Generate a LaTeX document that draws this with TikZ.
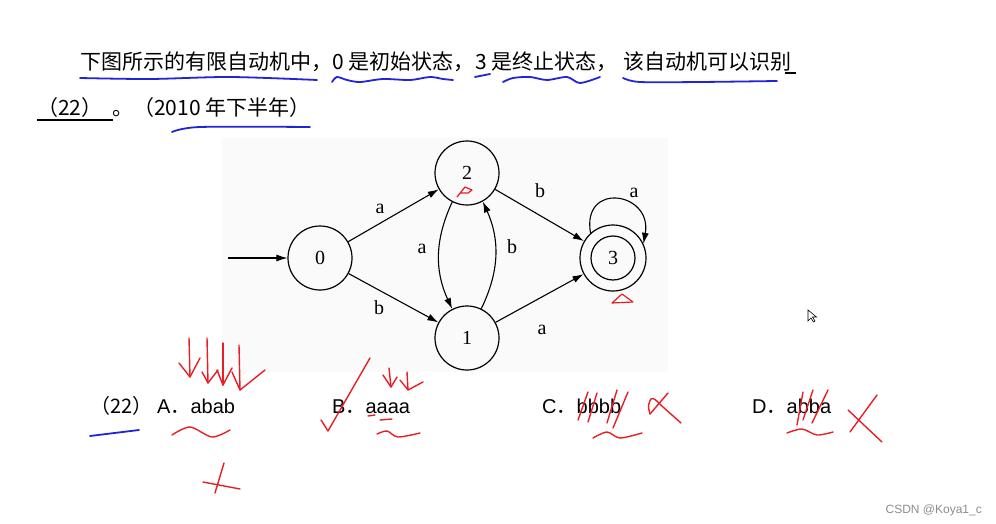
\documentclass[tikz,border=0pt]{standalone}
\usepackage{fontspec}
\setmainfont{Liberation Serif}
\newfontfamily\cjk{Noto Sans CJK SC}
\newfontfamily\arial{Liberation Sans}
\usetikzlibrary{arrows.meta}
\definecolor{penred}{RGB}{232,30,36}
\definecolor{penblue}{RGB}{35,35,215}

\begin{document}
\begin{tikzpicture}[x=1pt,y=1pt,yscale=-1,
  state/.style={circle,draw,line width=1.2pt,minimum size=64pt,inner sep=0pt,font=\fontsize{20}{22}\selectfont},
  edge/.style={line width=1.1pt,-{Latex[length=11pt,width=7pt]}},
  lbl/.style={font=\fontsize{20}{22}\selectfont,inner sep=0pt},
  cn/.style={font=\cjk\fontsize{21}{24}\selectfont,inner sep=0pt,anchor=base west},
  opt/.style={font=\arial\fontsize{20}{24}\selectfont,inner sep=0pt,anchor=base west},
  redpen/.style={penred,line width=1.4pt,line cap=round,line join=round},
  bluepen/.style={penblue,line width=1.8pt,line cap=round,line join=round}]
\useasboundingbox (0,0) rectangle (996,524);

%Shape: Rectangle (scanned figure)
\fill[black!2] (222,138) rectangle (668,372);

% Text Node
\node[cn] (q1) at (80,70) {下图所示的有限自动机中，};
\node[cn] (q2) at (332,70) {0 是初始状态，};
\node[cn] (q3) at (475,70) {3 是终止状态，};
\node[cn] (q4) at (623,70) {该自动机可以识别};
\node[cn] (q5) at (37,116) {（22）};
\node[cn] (q6) at (112,116) {。（2010 年下半年）};
%Straight Lines
\draw[line width=1.2pt] (785,73) -- (796,73);
\draw[line width=1.2pt] (37,120) -- (113,120);

%Shape: Circle
\node[state] (s0) at (320,258) {0};
\node[state] (s2) at (467,173) {2};
\node[state] (s1) at (467,338) {1};
\node[state,minimum size=66pt] (s3) at (613,258) {3};
\draw[line width=1.2pt] (s3.center) circle (22);
\coordinate (start) at (228,258);

%Straight Lines
\draw[edge] (start) -- (s0);
\draw[edge] (s0) -- (s2);
\draw[edge] (s0) -- (s1);
\draw[edge] (s2) -- (s3);
\draw[edge] (s1) -- (s3);
%Curve Lines
\draw[edge] (s2.-117) to[bend left=25] (s1.117);
\draw[edge] (s1.64) to[bend left=25] (s2.-61);
\draw[edge] (s3.132) to[out=-100,in=-80,looseness=2.5] (s3.25);

% Text Node
\node[lbl] (l02) at (380,209) {a};
\node[lbl] (l01) at (379,308) {b};
\node[lbl] (l21) at (422,249) {a};
\node[lbl] (l12) at (512,247) {b};
\node[lbl] (l23) at (540,191) {b};
\node[lbl] (l13) at (542,330) {a};
\node[lbl] (l33) at (634,193) {a};

% Text Node (answers)
\node[cn,font=\cjk\fontsize{20}{24}\selectfont] (n22) at (90,413) {（22）};
\node[opt] (oa) at (157,413) {A{\cjk ．}abab};
\node[opt] (ob) at (332,413) {B{\cjk ．}aaaa};
\node[opt] (oc) at (542,413) {C{\cjk ．}bbbb};
\node[opt] (od) at (752,413) {D{\cjk ．}abba};
\node[font=\arial\fontsize{12}{14}\selectfont,text=black!45,inner sep=0pt,anchor=base east] (wm) at (982,513) {CSDN @Koya1\_c};

%Pointer
\draw[line width=0.6pt,fill=white] (808,310) -- (808,321) -- (811,318) -- (813.5,322) -- (815,321) -- (812.5,317) -- (816.5,317) -- cycle;

%Blue marks
\draw[bluepen] plot[smooth] coordinates {(80,78) (150,79) (230,77) (317,80)};
\draw[bluepen] plot[smooth] coordinates {(332,82) (337,77) (347,80) (360,82) (383,79) (410,80) (430,77) (443,79) (453,80)};
\draw[bluepen] (475,77) -- (490,74);
\draw[bluepen] plot[smooth] coordinates {(503,82) (513,78) (530,77) (547,80) (567,77) (580,83) (600,77)};
\draw[bluepen] plot[smooth] coordinates {(623,78) (640,82) (700,82) (777,81)};
\draw[bluepen] plot[smooth] coordinates {(172,132) (200,127) (310,127)};
\draw[bluepen] (90,436) -- (139,430);

%Red marks: diagram
\draw[redpen,line width=1.2pt] (457,197) -- (465,187) -- (472,190) -- (468,193) -- (460,193);
\draw[redpen,line width=1.2pt] (612,303) -- (622,294) -- (633,302) -- cycle;

%Red marks: option A
\draw[redpen] (189,338) -- (190,377);
\draw[redpen] (179,363) -- (190,377) -- (200,358);
\draw[redpen] (207,338) -- (208,383);
\draw[redpen] (202,372) -- (208,383) -- (218,370);
\draw[redpen] (223,343) -- (223,385);
\draw[redpen] (217,370) -- (223,385) -- (232,368);
\draw[redpen] (239,345) -- (240,390);
\draw[redpen] (232,372) -- (240,390) -- (265,370);
\draw[redpen] plot[smooth] coordinates {(172,435) (190,427) (212,437) (230,430)};
\draw[redpen] (224,463) -- (215,493);
\draw[redpen] (203,482) -- (240,489);

%Red marks: option B
\draw[redpen] (321,420) -- (328,431) -- (370,358);
\draw[redpen] (389,368) -- (391,387);
\draw[redpen] (383,375) -- (391,387) -- (397,377);
\draw[redpen] (407,372) -- (408,390);
\draw[redpen] (400,380) -- (408,390) -- (423,382);
\draw[redpen] (368,416) -- (375,415);
\draw[redpen] (380,420) -- (392,419);
\draw[redpen] plot[smooth] coordinates {(377,434) (387,431) (398,437) (420,433)};

%Red marks: option C
\draw[redpen] (578,420) -- (588,392);
\draw[redpen] (588,422) -- (597,393);
\draw[redpen] (607,423) -- (617,390);
\draw[redpen] (613,428) -- (628,392);
\draw[redpen] plot[smooth] coordinates {(593,438) (607,432) (620,438) (642,433)};
\draw[redpen] (668,393) -- (650,414);
\draw[redpen] plot[smooth] coordinates {(650,414) (648.5,406) (651,399) (655,399.5) (663,407) (681,423)};

%Red marks: option D
\draw[redpen] (797,425) -- (803,392);
\draw[redpen] (803,420) -- (813,390);
\draw[redpen] (812,423) -- (828,390);
\draw[redpen] plot[smooth] coordinates {(787,433) (802,429) (817,435) (833,432)};
\draw[redpen] (877,395) -- (850,432);
\draw[redpen] (848,410) -- (882,442);

\end{tikzpicture}
\end{document}
